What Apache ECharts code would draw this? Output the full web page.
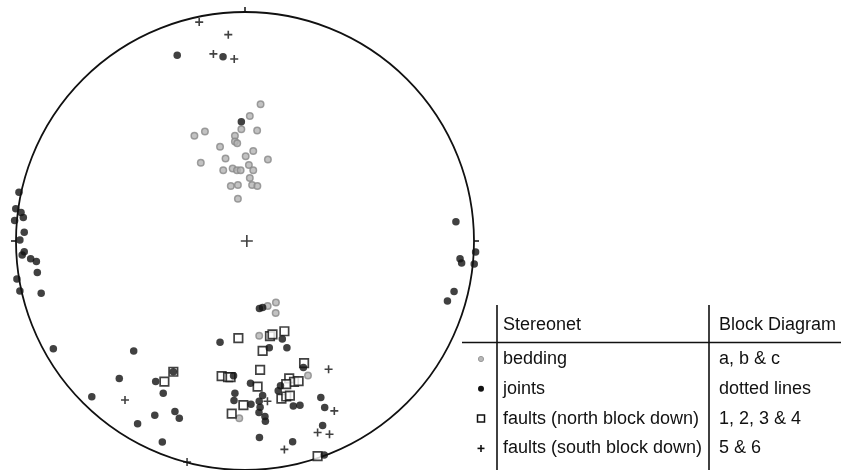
<!DOCTYPE html>
<html>
<head>
<meta charset="utf-8">
<script src="https://cdn.jsdelivr.net/npm/echarts@6/dist/echarts.min.js"></script>
<style>
html,body{margin:0;padding:0;background:#fff;}
#chart{width:841px;height:470px;}
</style>
</head>
<body>
<div id="chart"></div>
<script>
// Stereonet poles, in units of the primitive circle radius (x = east, y = north)
const bedding = [
  [0.068,0.597],[0.021,0.546],[-0.016,0.488],[0.053,0.483],[-0.221,0.460],[-0.175,0.478],
  [-0.044,0.460],[-0.044,0.435],[-0.034,0.427],[-0.109,0.412],[0.036,0.393],[0.003,0.370],
  [0.100,0.356],[-0.085,0.360],[-0.193,0.342],[0.017,0.332],[-0.054,0.317],[-0.035,0.309],
  [-0.019,0.309],[0.036,0.309],[-0.095,0.309],[0.021,0.275],[-0.062,0.240],[-0.031,0.245],
  [0.031,0.245],[0.054,0.240],[-0.031,0.185],
  [0.099,-0.284],[0.135,-0.269],[0.134,-0.314],[0.062,-0.414],[0.275,-0.587],[-0.025,-0.774]
];
const joints = [
  [-0.296,0.811],[-0.096,0.805],[-0.016,0.521],
  [-0.987,0.213],[-1.001,0.141],[-0.978,0.124],[-0.968,0.103],[-1.006,0.089],[-0.964,0.038],
  [-0.983,0.004],[-0.964,-0.047],[-0.973,-0.061],[-0.936,-0.077],[-0.911,-0.090],[-0.907,-0.138],
  [-0.996,-0.166],[-0.983,-0.218],[-0.890,-0.228],[-0.837,-0.470],
  [0.921,0.084],[1.007,-0.048],[0.939,-0.077],[0.946,-0.096],[1.001,-0.100],[0.913,-0.220],[0.884,-0.262],
  [-0.486,-0.480],[-0.549,-0.600],[-0.669,-0.680],[-0.390,-0.613],[-0.313,-0.571],[-0.357,-0.665],
  [-0.394,-0.761],[-0.306,-0.745],[-0.287,-0.774],[-0.469,-0.798],[-0.361,-0.878],
  [0.063,-0.295],[0.077,-0.290],[-0.109,-0.442],[0.163,-0.428],[0.183,-0.466],[0.106,-0.466],
  [0.255,-0.552],[-0.050,-0.588],[0.024,-0.621],[-0.044,-0.665],[-0.048,-0.697],[0.026,-0.713],
  [0.077,-0.675],[0.062,-0.700],[0.066,-0.726],[0.061,-0.749],[0.087,-0.766],[0.089,-0.787],
  [0.063,-0.858],[0.155,-0.632],[0.145,-0.654],[0.211,-0.720],[0.240,-0.717],[0.331,-0.683],
  [0.348,-0.727],[0.339,-0.806],[0.208,-0.877],[0.346,-0.934]
];
const faultsNorth = [
  [-0.029,-0.424],[0.109,-0.415],[0.120,-0.408],[0.172,-0.394],[0.077,-0.480],[0.258,-0.533],
  [0.066,-0.563],[-0.102,-0.590],[-0.074,-0.594],[-0.063,-0.594],[0.055,-0.636],[-0.007,-0.717],
  [-0.058,-0.754],[0.193,-0.600],[0.214,-0.615],[0.234,-0.612],[0.180,-0.625],[0.159,-0.688],
  [0.180,-0.679],[0.196,-0.675],[0.317,-0.939],[-0.352,-0.614],[-0.313,-0.571]
];
const faultsSouth = [
  [-0.200,0.956],[-0.073,0.901],[-0.138,0.817],[-0.047,0.795],[-0.524,-0.694],[-0.253,-0.965],
  [0.098,-0.700],[0.365,-0.560],[0.390,-0.742],[0.317,-0.836],[0.369,-0.844],[0.172,-0.910]
];
const centre = [[0.008,0]];
const tickMarks = [[[0,1],[0,1.022]],[[-1,0],[-1.022,0]],[[1,0],[1.022,0]],[[0,-1],[0,-1.022]]];

const headers = ['Stereonet','Block Diagram'];
const legendLabels = ['bedding','joints','faults (north block down)','faults (south block down)'];
const blockLabels = ['a, b & c','dotted lines','1, 2, 3 & 4','5 & 6'];

const INK = '#111111';
const PLUS = 'path://M4,0h2v4h4v2h-4v4h-2v-4h-4v-2h4z';
const PLUS_BIG = 'path://M5.2,0h1.6v5.2h5.2v1.6h-5.2v5.2h-1.6v-5.2h-5.2v-1.6h5.2z';
const FONT = '"Liberation Sans", Arial, Helvetica, sans-serif';

const chart = echarts.init(document.getElementById('chart'), null, {renderer:'canvas'});

// legend table graphics
const graphic = [];
const colA = 497, colB = 709, headY = 325, rowY0 = 359, rowStep = 29.8;
graphic.push({type:'line', shape:{x1:colA,y1:305,x2:colA,y2:470}, style:{stroke:INK,lineWidth:1.6}});
graphic.push({type:'line', shape:{x1:colB,y1:305,x2:colB,y2:470}, style:{stroke:INK,lineWidth:1.6}});
graphic.push({type:'line', shape:{x1:462,y1:342.5,x2:841,y2:342.5}, style:{stroke:INK,lineWidth:1.6}});
graphic.push({type:'text', x:colA+6, y:headY, style:{text:headers[0], font:'18px '+FONT, fill:INK, textVerticalAlign:'middle'}});
graphic.push({type:'text', x:colB+10, y:headY, style:{text:headers[1], font:'18px '+FONT, fill:INK, textVerticalAlign:'middle'}});
legendLabels.forEach((t,i)=>{
  const y = rowY0 + i*rowStep;
  graphic.push({type:'text', x:colA+6, y:y, style:{text:t, font:'18px '+FONT, fill:INK, textVerticalAlign:'middle'}});
  graphic.push({type:'text', x:colB+10, y:y, style:{text:blockLabels[i], font:'18px '+FONT, fill:INK, textVerticalAlign:'middle'}});
});
const sx = 481;
const py = rowY0 + 3*rowStep;
graphic.push({type:'circle', shape:{cx:sx,cy:rowY0,r:2.6}, style:{fill:'#b8b8b8',stroke:'#9a9a9a',lineWidth:1}});
graphic.push({type:'circle', shape:{cx:sx,cy:rowY0+rowStep,r:3}, style:{fill:INK}});
graphic.push({type:'rect', shape:{x:sx-3.5,y:rowY0+2*rowStep-3.5,width:7,height:7}, style:{fill:'#fff',stroke:INK,lineWidth:1.5}});
graphic.push({type:'line', shape:{x1:sx-3.5,y1:py,x2:sx+3.5,y2:py}, style:{stroke:INK,lineWidth:1.6}});
graphic.push({type:'line', shape:{x1:sx,y1:py-3.5,x2:sx,y2:py+3.5}, style:{stroke:INK,lineWidth:1.6}});

chart.setOption({
  animation:false,
  backgroundColor:'#fff',
  grid:{left:16, top:12, width:458, height:458},
  xAxis:{type:'value', min:-1, max:1, show:false},
  yAxis:{type:'value', min:-1, max:1, show:false},
  graphic: graphic,
  series:[
    {
      type:'custom', clip:false, silent:true,
      data:[[0,0]],
      renderItem:function(params, api){
        const c = api.coord([0,0]);
        const r = api.size([1,1]);
        return {type:'circle', shape:{cx:c[0], cy:c[1], r:(r[0]+r[1])/2}, style:{fill:'none', stroke:INK, lineWidth:1.8}};
      }
    },
    {
      type:'custom', clip:false, silent:true,
      data: tickMarks.map((t,i)=>[i]),
      renderItem:function(params, api){
        const t = tickMarks[params.dataIndex];
        const a = api.coord(t[0]), b = api.coord(t[1]);
        return {type:'line', shape:{x1:a[0],y1:a[1],x2:b[0],y2:b[1]}, style:{stroke:INK, lineWidth:1.5}};
      }
    },
    {type:'scatter', clip:false, silent:true, data:centre, symbol:PLUS_BIG, symbolSize:12, itemStyle:{color:INK}},
    {type:'scatter', clip:false, silent:true, data:bedding, symbol:'circle', symbolSize:6.5,
      itemStyle:{color:'#b3b3b3', borderColor:'#888888', borderWidth:1.5}},
    {type:'scatter', clip:false, silent:true, data:faultsNorth, symbol:'rect', symbolSize:8.5,
      itemStyle:{color:'#fff', borderColor:INK, borderWidth:1.7}},
    {type:'scatter', clip:false, silent:true, data:joints, symbol:'circle', symbolSize:7.5,
      itemStyle:{color:INK}},
    {type:'scatter', clip:false, silent:true, data:faultsSouth, symbol:PLUS, symbolSize:8,
      itemStyle:{color:INK}}
  ]
});
</script>
</body>
</html>
